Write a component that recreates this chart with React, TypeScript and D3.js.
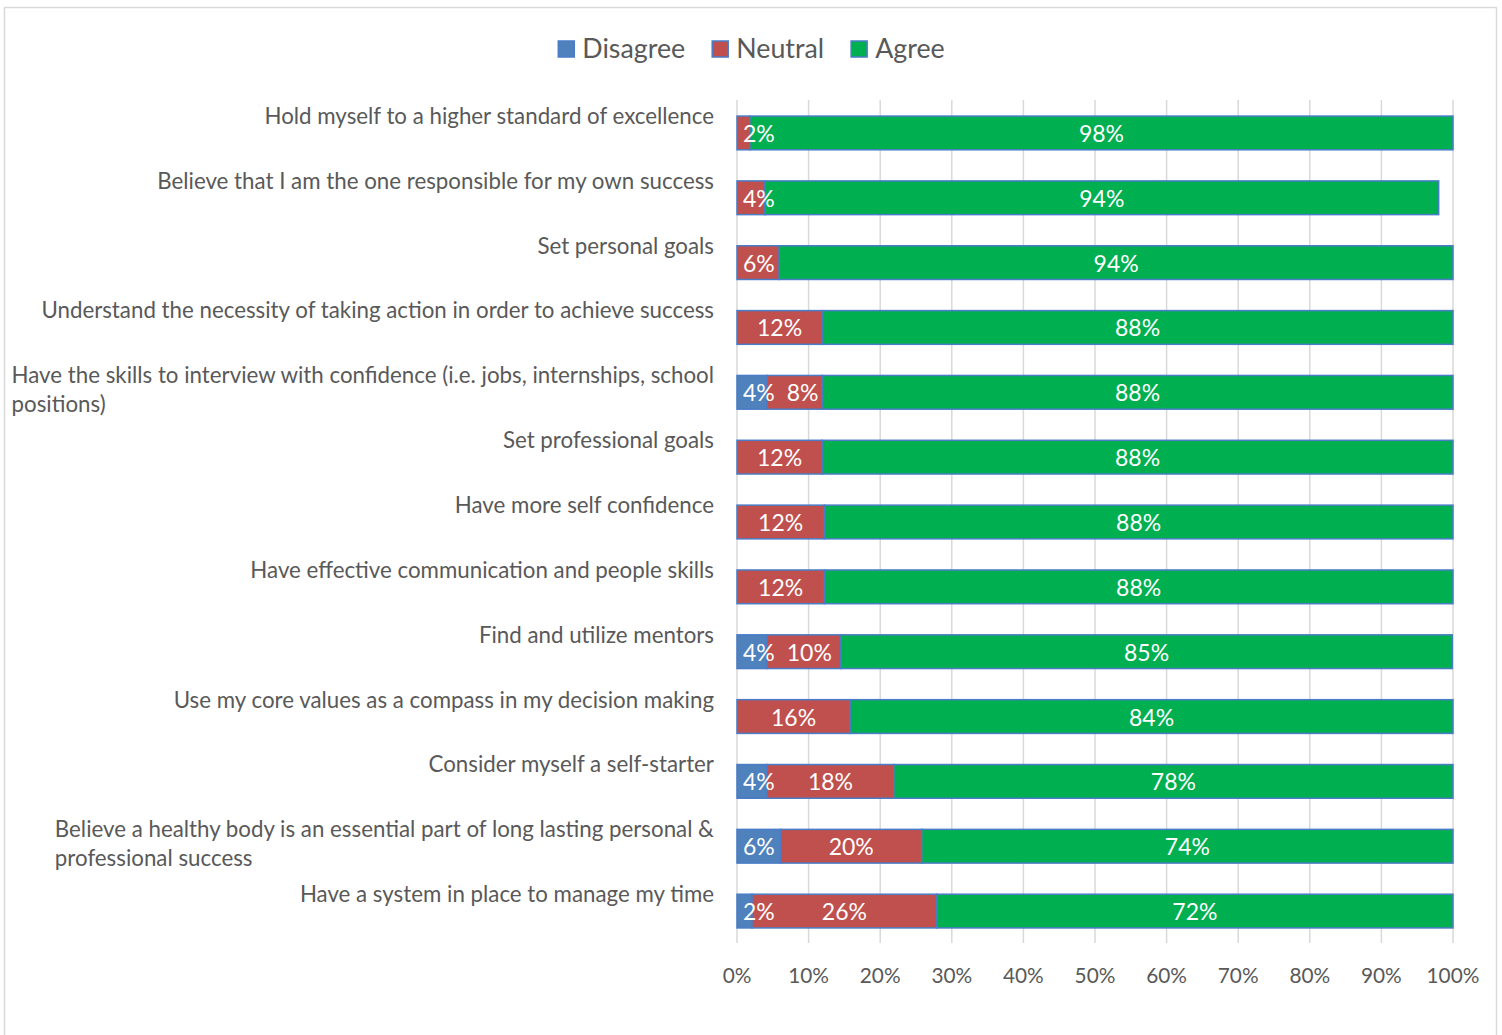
import React, { useEffect, useRef } from "react";
import * as d3 from "d3";

const categories = [
  "Hold myself to a higher standard of excellence",
  "Believe that I am the one responsible for my own success",
  "Set personal goals",
  "Understand the necessity of taking action in order to achieve success",
  "Have the skills to interview with confidence (i.e. jobs, internships, school\npositions)",
  "Set professional goals",
  "Have more self confidence",
  "Have effective communication and people skills",
  "Find and utilize mentors",
  "Use my core values as a compass in my decision making",
  "Consider myself a self-starter",
  "Believe a healthy body is an essential part of long lasting personal &\nprofessional success",
  "Have a system in place to manage my time",
];
const disagree = [0, 0, 0, 0, 4.2, 0, 0, 0, 4.2, 0, 4.2, 6.1, 2.1];
const neutral = [1.8, 3.9, 5.9, 11.9, 7.7, 11.9, 12.2, 12.2, 10.3, 15.8, 17.7, 19.7, 25.8];
const agree = [98.2, 94.1, 94.1, 88.1, 88.1, 88.1, 87.8, 87.8, 85.4, 84.2, 78.1, 74.2, 72.1];
const seriesNames = ["Disagree", "Neutral", "Agree"];
const seriesColors = ["#4F81BD", "#C0504D", "#00B050"];
const tickValues = [0, 10, 20, 30, 40, 50, 60, 70, 80, 90, 100];

const W = 1502;
const H = 1035;
const FONT = "Lato, 'Open Sans', sans-serif";
const TEXT = "#595959";

export default function App() {
  const ref = useRef<SVGSVGElement>(null);
  useEffect(() => {
    const svg = d3.select(ref.current);
    svg.selectAll("*").remove();

    // chart border
    svg.append("rect").attr("x", 4.5).attr("y", 7.5).attr("width", 1492).attr("height", 1040)
      .attr("fill", "#fff").attr("stroke", "#d9d9d9").attr("stroke-width", 1.5);

    const x = d3.scaleLinear().domain([0, 100]).range([737, 1453]);
    const y = d3.scaleBand<number>().domain(d3.range(categories.length)).range([100.5, 943.5])
      .paddingInner(0.48).paddingOuter(0.24);

    // gridlines
    svg.append("g").selectAll("line").data(tickValues).join("line")
      .attr("x1", (d) => x(d)).attr("x2", (d) => x(d))
      .attr("y1", 100).attr("y2", 943)
      .attr("stroke", "#d9d9d9").attr("stroke-width", 1.5);

    // tick labels
    svg.append("g").selectAll("text").data(tickValues).join("text")
      .attr("x", (d) => x(d)).attr("y", 983)
      .attr("text-anchor", "middle")
      .attr("font-family", FONT).attr("font-size", 20.8).attr("fill", TEXT)
      .text((d) => d3.format(".0%")(d / 100));

    // stacked data
    const rows = categories.map((c, i) => ({ i, vals: [disagree[i], neutral[i], agree[i]] }));
    const barG = svg.append("g");
    const labG = svg.append("g");
    rows.forEach((r) => {
      let acc = 0;
      let prevRight = -Infinity;
      const yc = (y(r.i) as number) + y.bandwidth() / 2;
      r.vals.forEach((v, k) => {
        const x0 = acc;
        acc += v;
        if (v <= 0) return;
        barG.append("rect")
          .attr("x", x(x0)).attr("y", y(r.i) as number)
          .attr("width", x(acc) - x(x0)).attr("height", y.bandwidth())
          .attr("fill", seriesColors[k]).attr("stroke", "#4A7CC7").attr("stroke-width", 1.5);
        const t = labG.append("text")
          .attr("y", yc + 9)
          .attr("text-anchor", "middle")
          .attr("font-family", FONT).attr("font-size", 23).attr("fill", "#fff")
          .text(d3.format(".0f")(v) + "%");
        const w = (t.node() as SVGTextElement).getComputedTextLength();
        let cx = (x(x0) + x(acc)) / 2;
        cx = Math.max(cx, x(0) + 6 + w / 2, prevRight + 12 + w / 2);
        t.attr("x", cx);
        prevRight = cx + w / 2;
      });
    });

    // category labels
    const catG = svg.append("g");
    categories.forEach((c, i) => {
      const lines = c.split("\n");
      const yc = (y(i) as number) + y.bandwidth() / 2;
      const first = yc - 17 + 8;
      const t = catG.append("text")
        .attr("font-family", FONT).attr("font-size", 22.3).attr("fill", TEXT);
      const spans = lines.map((ln, j) =>
        t.append("tspan").attr("y", first + j * 28.5).text(ln)
      );
      if (lines.length === 1) {
        t.attr("text-anchor", "end");
        spans[0].attr("x", 714);
      } else {
        const w = (spans[0].node() as SVGTSpanElement).getComputedTextLength();
        spans.forEach((s) => s.attr("x", 714 - w));
      }
    });

    // legend
    const lg = svg.append("g");
    let lx = 0;
    seriesNames.forEach((n, k) => {
      lg.append("rect").attr("x", lx).attr("y", 41).attr("width", 16).attr("height", 16)
        .attr("fill", seriesColors[k]).attr("stroke", "#4A7CC7").attr("stroke-width", 1.5);
      const t = lg.append("text").attr("x", lx + 24).attr("y", 58)
        .attr("font-family", FONT).attr("font-size", 26.8).attr("fill", TEXT).text(n);
      const w = (t.node() as SVGTextElement).getComputedTextLength();
      lx += 24 + w + 27;
    });
    const total = lx - 27;
    lg.attr("transform", `translate(${751.5 - total / 2},0)`);
  }, []);

  return (
    <div style={{ position: "absolute", left: 0, top: 0, width: W, height: H, overflow: "hidden", background: "#fff" }}>
      <svg ref={ref} width={W} height={H} style={{ display: "block" }} />
    </div>
  );
}
